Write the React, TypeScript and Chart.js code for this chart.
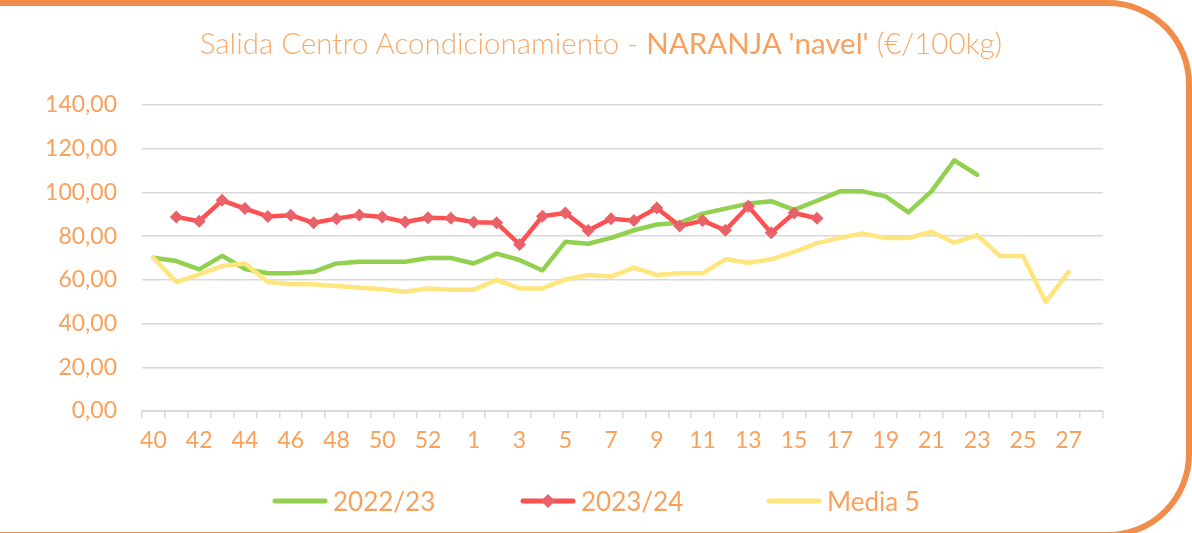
import React, { useEffect, useRef } from "react";
import { Chart, registerables } from "chart.js";

Chart.register(...registerables);

// Week categories (season runs week 40 -> week 28 of next year)
const weeks: string[] = [
  "40", "41", "42", "43", "44", "45", "46", "47", "48", "49", "50", "51", "52", "53",
  "1", "2", "3", "4", "5", "6", "7", "8", "9", "10", "11", "12", "13", "14",
  "15", "16", "17", "18", "19", "20", "21", "22", "23", "24", "25", "26", "27", "28",
];

const season2022_23: (number | null)[] = [
  70.1, 68.6, 64.8, 71.0, 65.0, 63.0, 63.0, 63.7, 67.5, 68.3, 68.3, 68.3, 70.0, 70.0,
  67.5, 72.0, 69.1, 64.3, 77.4, 76.5, 79.2, 82.7, 85.3, 86.1, 90.3, 92.6, 94.9, 96.0,
  92.0, 96.2, 100.5, 100.5, 98.2, 90.9, 100.5, 114.7, 108.1, null, null, null, null, null,
];

const season2023_24: (number | null)[] = [
  null, 88.8, 86.8, 96.4, 92.6, 89.0, 89.6, 86.1, 88.0, 89.7, 88.8, 86.5, 88.4, 88.2,
  86.4, 86.1, 76.2, 89.1, 90.6, 82.6, 88.0, 87.1, 92.9, 84.6, 87.1, 82.7, 93.7, 81.5,
  90.6, 88.2, null, null, null, null, null, null, null, null, null, null, null, null,
];

const media5: (number | null)[] = [
  70.0, 59.0, 62.5, 66.3, 67.5, 59.0, 58.0, 58.0, 57.2, 56.4, 55.7, 54.6, 56.1, 55.5,
  55.5, 60.0, 56.1, 56.1, 60.2, 62.2, 61.5, 65.6, 62.2, 63.0, 63.0, 69.4, 67.8, 69.4,
  72.8, 76.8, 79.2, 81.2, 79.1, 79.1, 82.0, 77.0, 80.5, 70.9, 70.9, 49.9, 63.6, null,
];

const seriesNames: string[] = ["2022/23", "2023/24", "Media 5"];
const yMin = 0;
const yMax = 140;
const yStep = 20;

const GREEN = "#92D050";
const RED = "#FF5050";
const RED_MARK = "#E9626A";
const YELLOW = "#FFE57D";
const ORANGE_TXT = "#F9A05A";
const ORANGE_LIGHT = "#F8AA6A";
const GRID = "#D9D9D9";
const FRAME = "#F28C4B";
const FONT = "Lato, 'Open Sans', sans-serif";

const fmt = (v: number) => v.toFixed(2).replace(".", ",");

function LegendSample({ color, marker }: { color: string; marker?: string }) {
  return (
    <svg width={56} height={14} style={{ display: "block" }}>
      <line x1={3} y1={7} x2={53} y2={7} stroke={color} strokeWidth={5} strokeLinecap="round" />
      {marker ? <polygon points="28,0 35,7 28,14 21,7" fill={marker} /> : null}
    </svg>
  );
}

export default function App() {
  const canvasRef = useRef<HTMLCanvasElement | null>(null);

  useEffect(() => {
    const canvas = canvasRef.current;
    if (!canvas) return;
    const chart = new Chart(canvas, {
      type: "line",
      data: {
        labels: weeks,
        datasets: [
          {
            label: seriesNames[0],
            data: season2022_23,
            borderColor: GREEN,
            backgroundColor: GREEN,
            borderWidth: 4.5,
            pointRadius: 0,
            tension: 0,
            borderJoinStyle: "round",
            borderCapStyle: "round",
            spanGaps: false,
            order: 3,
          },
          {
            label: seriesNames[1],
            data: season2023_24,
            borderColor: RED,
            backgroundColor: RED_MARK,
            borderWidth: 4.5,
            pointStyle: "rectRot",
            pointRadius: 6.5,
            pointBorderWidth: 0,
            pointBackgroundColor: RED_MARK,
            tension: 0,
            borderJoinStyle: "round",
            borderCapStyle: "round",
            order: 2,
          },
          {
            label: seriesNames[2],
            data: media5,
            borderColor: YELLOW,
            backgroundColor: YELLOW,
            borderWidth: 4.5,
            pointRadius: 0,
            tension: 0,
            borderJoinStyle: "round",
            borderCapStyle: "round",
            order: 1,
          },
        ],
      },
      options: {
        responsive: false,
        animation: false,
        devicePixelRatio: 1,
        layout: { padding: { left: 0, right: 89, top: 105, bottom: 72 } },
        plugins: {
          legend: { display: false },
          title: { display: false },
          tooltip: { enabled: false },
        },
        scales: {
          x: {
            type: "category",
            offset: true,
            grid: {
              display: true,
              drawOnChartArea: false,
              drawTicks: true,
              tickLength: 7,
              offset: true,
              color: GRID,
              lineWidth: 1.5,
            },
            border: { display: true, color: GRID, width: 2 },
            ticks: {
              autoSkip: false,
              maxRotation: 0,
              minRotation: 0,
              padding: 9,
              color: ORANGE_TXT,
              font: { family: FONT, size: 23 },
              callback: (_v: any, i: number) => (i % 2 === 0 ? weeks[i] : ""),
            },
            afterFit: (s: any) => {
              s.height = 50;
            },
          },
          y: {
            min: yMin,
            max: yMax,
            grid: { color: GRID, lineWidth: 1.5, drawTicks: false },
            border: { display: false },
            ticks: {
              stepSize: yStep,
              padding: 25,
              color: ORANGE_TXT,
              font: { family: FONT, size: 23 },
              callback: (v: any) => fmt(Number(v)),
            },
            afterFit: (s: any) => {
              s.width = 142;
            },
          },
        },
      },
    });
    return () => chart.destroy();
  }, []);

  return (
    <div
      style={{
        position: "fixed",
        left: 0,
        top: 0,
        width: 1192,
        height: 533,
        overflow: "hidden",
        background: "#ffffff",
      }}
    >
      <canvas
        ref={canvasRef}
        width={1192}
        height={533}
        style={{ position: "absolute", left: 0, top: 0, width: 1192, height: 533 }}
      />
      <div
        style={{
          position: "absolute",
          left: 0,
          top: 28,
          width: 1202,
          textAlign: "center",
          fontFamily: FONT,
          fontSize: 29.5,
          lineHeight: "29.5px",
          whiteSpace: "nowrap",
        }}
      >
        <span style={{ color: ORANGE_LIGHT, fontWeight: 300 }}>Salida Centro Acondicionamiento - </span>
        <span style={{ color: ORANGE_TXT, fontWeight: 400 }}>NARANJA 'navel'</span>
        <span style={{ color: ORANGE_LIGHT, fontWeight: 300 }}> (€/100kg)</span>
      </div>
      {[
        { left: 272, color: GREEN, marker: undefined, text: seriesNames[0] },
        { left: 520, color: RED, marker: RED_MARK, text: seriesNames[1] },
        { left: 766, color: YELLOW, marker: undefined, text: seriesNames[2] },
      ].map((it) => (
        <div
          key={it.text}
          style={{
            position: "absolute",
            left: it.left,
            top: 488,
            height: 26,
            display: "flex",
            alignItems: "center",
            fontFamily: FONT,
            fontSize: 26,
            lineHeight: "26px",
            color: ORANGE_TXT,
            whiteSpace: "nowrap",
          }}
        >
          <LegendSample color={it.color} marker={it.marker} />
          <span style={{ marginLeft: 5 }}>{it.text}</span>
        </div>
      ))}
      <div
        style={{
          position: "absolute",
          left: -50,
          top: 0,
          width: 1242,
          height: 538,
          boxSizing: "border-box",
          border: `6px solid ${FRAME}`,
          borderRadius: "0 84px 84px 0",
          pointerEvents: "none",
        }}
      />
    </div>
  );
}
